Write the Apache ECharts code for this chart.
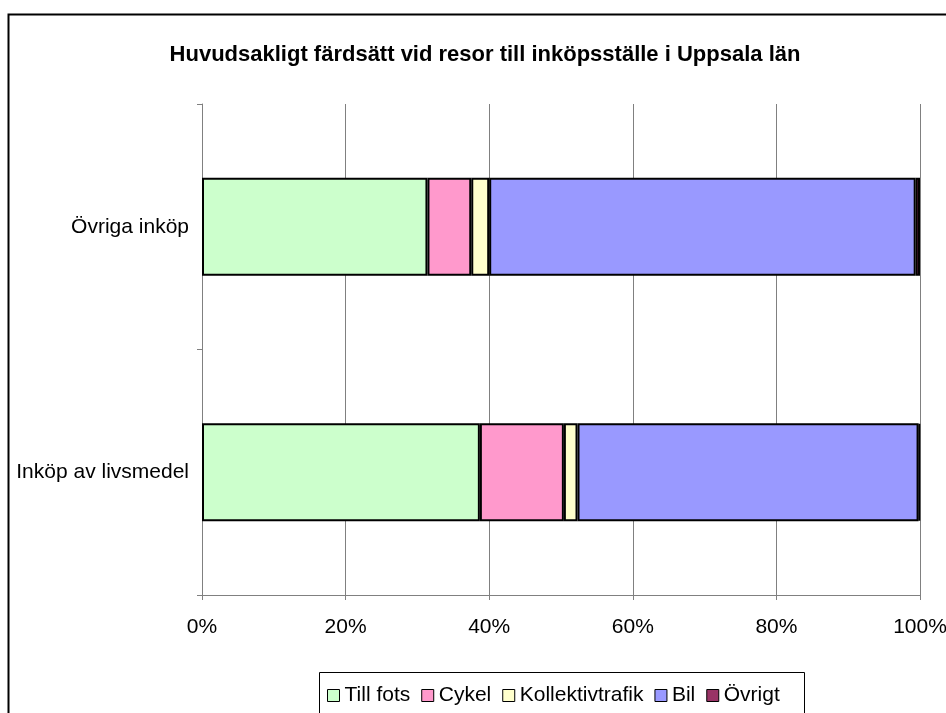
<!DOCTYPE html>
<html>
<head>
<meta charset="utf-8">
<script src="https://cdn.jsdelivr.net/npm/echarts@6/dist/echarts.min.js"></script>
<style>
  html, body { margin: 0; padding: 0; background: #fff; }
  #chart { width: 946px; height: 713px; }
</style>
</head>
<body>
<div id="chart"></div>
<script>
const categories = ['Inköp av livsmedel', 'Övriga inköp']
const seriesNames = ['Till fots', 'Cykel', 'Kollektivtrafik', 'Bil', 'Övrigt']
const tillFots = [38.7, 31.4]
const cykel = [11.7, 6.1]
const kollektiv = [1.9, 2.5]
const bil = [47.5, 59.4]
const ovrigt = [0.2, 0.6]
const xTicks = [0, 20, 40, 60, 80, 100]

const colors = ['#CCFFCC', '#FF99CC', '#FFFFCC', '#9999FF', '#993366']
const values = [tillFots, cykel, kollektiv, bil, ovrigt]
const font = 'Liberation Sans, Arial, sans-serif'

const chart = echarts.init(document.getElementById('chart'))
chart.setOption({
  animation: false,
  textStyle: { fontFamily: font },
  graphic: [
    {
      type: 'rect',
      shape: { x: 8.5, y: 14.5, width: 960, height: 720 },
      style: { fill: 'none', stroke: '#000', lineWidth: 2 },
      z: -10,
    },
    {
      type: 'rect',
      shape: { x: 319.5, y: 672.5, width: 485, height: 60 },
      style: { fill: '#fff', stroke: '#000', lineWidth: 1 },
      z: -5,
    },
  ],
  title: {
    text: 'Huvudsakligt färdsätt vid resor till inköpsställe i Uppsala län',
    left: 480,
    textAlign: 'center',
    top: 39,
    textStyle: { fontFamily: font, fontSize: 22, fontWeight: 'bold', color: '#000' },
  },
  legend: {
    data: seriesNames,
    left: 322,
    top: 680,
    itemWidth: 12,
    itemHeight: 12,
    itemGap: 11,
    icon: 'rect',
    itemStyle: { borderColor: '#000', borderWidth: 1 },
    textStyle: { fontFamily: font, fontSize: 21, color: '#000', padding: [0, 0, 0, 0] },
  },
  grid: { left: 202, right: 26, top: 104, bottom: 118, outerBoundsMode: 'none', containLabel: false },
  xAxis: {
    type: 'value',
    min: 0,
    max: 100,
    interval: 20,
    axisLine: { show: true, lineStyle: { color: '#808080', width: 1 } },
    axisTick: { show: true, length: 5, inside: false, lineStyle: { color: '#808080' } },
    axisLabel: {
      fontFamily: font,
      fontSize: 21,
      color: '#000',
      margin: 22,
      formatter: (v) => (xTicks.includes(v) ? v + '%' : ''),
    },
    splitLine: { show: true, lineStyle: { color: '#808080', width: 1 } },
  },
  yAxis: {
    type: 'category',
    data: categories,
    axisLine: { show: true, lineStyle: { color: '#808080', width: 1 } },
    axisTick: { show: true, length: 5, lineStyle: { color: '#808080' } },
    axisLabel: { fontFamily: font, fontSize: 21, color: '#000', margin: 13 },
    splitLine: { show: false },
  },
  series: seriesNames.map((name, i) => ({
    name,
    type: 'bar',
    stack: 'total',
    barCategoryGap: '60%',
    data: values[i],
    itemStyle: { color: colors[i], borderColor: '#000', borderWidth: 2 },
  })),
})
</script>
</body>
</html>
